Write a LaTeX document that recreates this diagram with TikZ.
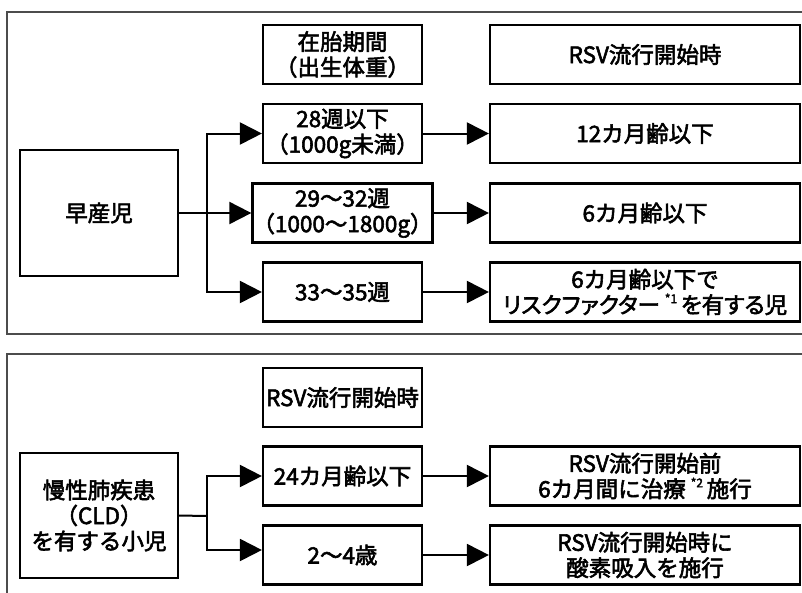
\documentclass[tikz,border=0pt]{standalone}
\usepackage{fontspec}
\setmainfont{Noto Sans CJK JP}[FakeBold=2.5]
\newfontfamily\paltfont{Noto Sans CJK JP}[FakeBold=2.5,RawFeature=+palt]
\usetikzlibrary{arrows.meta}
\newcommand\mysup[1]{\raisebox{0.45em}{\fontsize{12}{12}\selectfont #1}}
\begin{document}
\begin{tikzpicture}[x=1pt,y=-1pt,
  box/.style={draw, line width=2.2pt, inner sep=0pt, align=center,
    font=\fontsize{22.5}{25.5}\selectfont},
  sbox/.style={box, minimum width=159pt, minimum height=59pt},
  wbox/.style={box, minimum width=310pt, minimum height=59pt},
  conn/.style={line width=2pt},
  arr/.style={conn, -{Triangle[length=22pt,width=22pt]}},
  frame/.style={draw=black!70, line width=1.3pt}]
\useasboundingbox (0,0) rectangle (802,592);
% panel frames
\draw[frame] (7,12) rectangle (806,334);
\draw[frame] (7,354) rectangle (806,600);

% top panel
\node[sbox] (hA) at (342.5,54.5) {在胎期間\\（出生体重）};
\node[wbox] (hB) at (645,54.5) {RSV流行開始時};
\node[sbox] (a1) at (342.5,133.5) {28週以下\\（1000g未満）};
\node[wbox] (b1) at (645,133.5) {12カ月齢以下};
\node[sbox] (a2) at (342.5,213) {29〜32週\\（1000〜1800g）};
\node[wbox] (b2) at (645,213) {6カ月齢以下};
\node[sbox] (a3) at (342.5,292) {33〜35週};
\node[wbox] (b3) at (645,292) {6カ月齢以下で\\{\paltfont リスクファクター \mysup{*1}\,を有する児}};
\node[box, minimum width=158pt, minimum height=126pt] (pre) at (99,213) {早産児};

\coordinate (j1) at (207,213);
\draw[conn] (pre.east) -- (j1);
\draw[arr] (j1) |- (a1.west);
\draw[arr] (j1) -- (a2.west);
\draw[arr] (j1) |- (a3.west);
\draw[arr] (a1.east) -- (b1.west);
\draw[arr] (a2.east) -- (b2.west);
\draw[arr] (a3.east) -- (b3.west);

% bottom panel
\node[sbox] (hC) at (342.5,397.5) {RSV流行開始時};
\node[sbox] (c1) at (342.5,476) {24カ月齢以下};
\node[wbox] (d1) at (645,476) {RSV流行開始前\\6カ月間に治療 \mysup{*2}\,施行};
\node[sbox] (c2) at (342.5,555) {2〜4歳};
\node[wbox] (d2) at (645,555) {RSV流行開始時に\\酸素吸入を施行};
\node[box, minimum width=158pt, minimum height=125pt] (cld) at (99,515.5) {慢性肺疾患\\（CLD）\\を有する小児};

\coordinate (j2) at (207,516);
\draw[conn] (cld.east) -- (j2);
\draw[arr] (j2) |- (c1.west);
\draw[arr] (j2) |- ([yshift=5pt]c2.west);
\draw[arr] (c1.east) -- (d1.west);
\draw[arr] (c2.east) -- (d2.west);
\end{tikzpicture}
\end{document}
